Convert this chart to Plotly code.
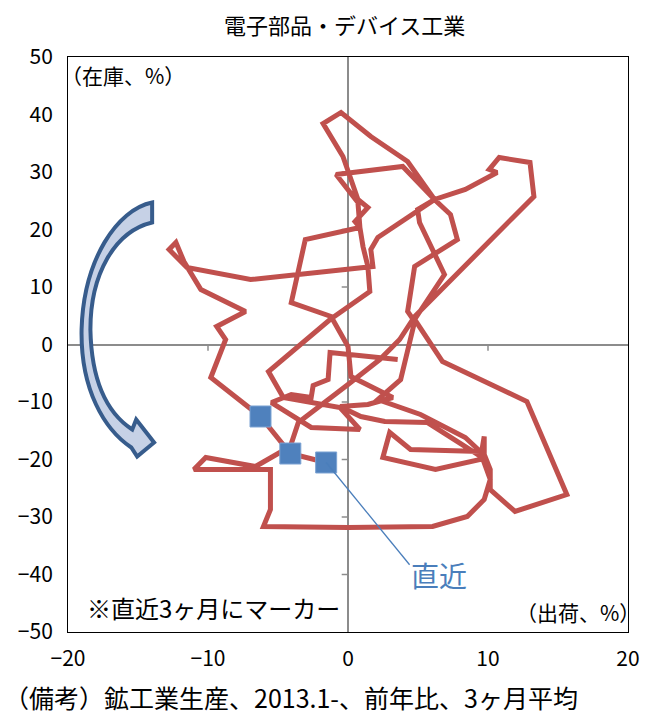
import plotly.graph_objects as go

# shipments (x, YoY %) and inventory (y, YoY %), 3-month average, from 2013.1
shipments = [3.55, -1.28, -1.42, -2.49, -2.63, -4.05, -5.47, -2.63, 0.85, -0.57,
             -4.62, -5.68, -1.28, 1.56,
             1.42, 1.07, 0.85, 0.50, 1.42, 0.71, 0.14, -0.36, -1.78, -0.50,
             1.63, 4.26, 6.18, 7.32, 7.81, 4.76, 4.26, 4.76, 3.76, 2.13,
             5.18, 8.38, 9.45, 4.47, 2.98, 2.49, 6.25, 9.45, 9.73, 9.73,
             10.16, 10.16, 11.93, 15.63, 12.78, 6.75, 4.76, 6.89, 5.11, 4.97,
             6.18, 8.38, 10.65, 10.09, 10.80, 13.0, 13.28, 4.76, 3.69, 2.27,
             0.0, -2.13, -3.55, -4.12, -6.61, -10.16, -11.01, -5.54, -5.54, -6.04,
             0.0, 6.04, 8.52, 9.73, 10.16, 9.59, 5.68, 2.63, 0.92, -0.57,
             1.42, 3.20, 0.21, 0.0,
             -1.21, -4.05, -3.05, 0.85, 0.71, -0.85, 3.91, 6.18, 2.13, 1.63,
             1.78, -6.96, -11.51, -12.78, -12.29, -11.72, -10.51, -7.32, -9.38, -8.74,
             -9.80, -6.25, -4.12, -1.56]
inventory = [-2.61, -1.39, -6.09, -7.13, -9.22, -8.70, -10.09, -14.43, -14.78, -10.96,
             -9.22, -4.70, 4.35, 9.22,
             13.57, 17.04, 20.35, 21.39, 23.83, 25.22, 29.22, 32.70, 38.43, 40.35,
             36.17, 31.83, 25.22, 22.61, 18.26, 13.57, 5.74, 4.00, -6.09, -9.57,
             -12.17, -16.17, -18.61, -18.26, -15.30, -19.65, -21.74, -20.0, -16.0, -19.13,
             -21.74, -25.22, -29.04, -26.09, -9.91, -2.96, 4.35, 12.17, 21.22, 23.48,
             25.22, 26.96, 29.91, 30.43, 32.52, 31.65, 25.74, 4.87, 0.87, -2.61,
             -6.96, -10.96, -13.57, -17.74, -21.22, -19.65, -21.74, -21.74, -28.70, -31.65,
             -31.83, -31.65, -29.91, -26.96, -23.48, -19.65, -13.57, -13.39, -12.52, -10.78,
             -10.43, -9.22, -5.57, -0.35,
             4.87, 7.30, 18.26, 20.35, 24.70, 29.57, 30.96, 25.22, 18.61, 16.52,
             13.57, 11.30, 13.39, 16.52, 17.74, 14.43, 9.57, 5.74, 3.13, 0.87,
             -5.74, -12.52, -18.96, -20.52]

x_ticks = [-20, -10, 0, 10, 20]
y_ticks = [50, 40, 30, 20, 10, 0, -10, -20, -30, -40, -50]

FONT = "Noto Sans CJK JP"
RED = "#C0504D"
BLUE = "#4F81BD"

fig = go.Figure()

fig.add_trace(go.Scatter(x=shipments, y=inventory, mode="lines",
                         line=dict(color=RED, width=5), hoverinfo="skip",
                         showlegend=False))
fig.add_trace(go.Scatter(x=shipments[-3:], y=inventory[-3:], mode="markers",
                         marker=dict(symbol="square", size=21, color=BLUE,
                                     line=dict(color="#7CA3D3", width=1)),
                         showlegend=False))

shapes = []
# small tick marks on the zero axes
for t in x_ticks:
    if t not in (-20, 0, 20):
        shapes.append(dict(type="line", xref="x", yref="y", x0=t, x1=t, y0=0, y1=-1.1,
                           line=dict(color="#8C8C8C", width=1.5), layer="below"))
for t in y_ticks:
    if t not in (-50, 0, 50):
        shapes.append(dict(type="line", xref="x", yref="y", x0=0, x1=-0.45, y0=t, y1=t,
                           line=dict(color="#8C8C8C", width=1.5), layer="below"))

# curved arrow (decoration)
arrow_path = ("M -13.99 24.70 C -16.48 23.48 -18.89 14.78 -19.03 2.61 "
              "C -19.11 -7.83 -17.40 -14.78 -15.48 -17.91 "
              "L -15.06 -19.48 L -13.85 -17.04 L -15.13 -13.04 L -15.41 -14.78 "
              "C -17.05 -12.17 -18.32 -6.96 -18.40 2.61 "
              "C -18.40 12.17 -16.69 19.65 -13.99 21.22 Z")
shapes.append(dict(type="path", xref="x", yref="y", path=arrow_path,
                   fillcolor="#C6D1E6", line=dict(color="#375C8C", width=4)))

# pointer line to latest
shapes.append(dict(type="line", xref="x", yref="y", x0=shipments[-1], y0=inventory[-1],
                   x1=4.4, y1=-38.3, line=dict(color="#4A7EBB", width=1.3)))

annotations = [
    dict(text="電子部品・デバイス工業", xref="paper", yref="paper", x=0.493, y=1.058,
         xanchor="center", yanchor="middle", showarrow=False,
         font=dict(family=FONT, size=22, color="black")),
    dict(text="（在庫、%）", xref="paper", yref="paper", x=-0.016, y=0.969,
         xanchor="left", yanchor="middle", showarrow=False,
         font=dict(family=FONT, size=21, color="black")),
    dict(text="（出荷、%）", xref="paper", yref="paper", x=1.025, y=0.035,
         xanchor="right", yanchor="middle", showarrow=False,
         font=dict(family=FONT, size=21, color="black")),
    dict(text="※直近3ヶ月にマーカー", xref="paper", yref="paper", x=0.030, y=0.042,
         xanchor="left", yanchor="middle", showarrow=False,
         font=dict(family=FONT, size=24, color="black")),
    dict(text="直近", xref="paper", yref="paper", x=0.663, y=0.099,
         xanchor="center", yanchor="middle", showarrow=False,
         font=dict(family=FONT, size=28, color="#4A7EBB")),
    dict(text="（備考）鉱工業生産、2013.1-、前年比、3ヶ月平均", xref="paper", yref="paper",
         x=-0.118, y=-0.113, xanchor="left", yanchor="middle", showarrow=False,
         font=dict(family=FONT, size=25, color="black")),
]

fig.update_layout(
    width=652, height=714,
    margin=dict(l=68, r=20, t=57, b=82),
    paper_bgcolor="white", plot_bgcolor="white",
    shapes=shapes, annotations=annotations,
    font=dict(family=FONT, color="black"),
    xaxis=dict(range=[-20, 20], tickvals=x_ticks, showgrid=False,
               zeroline=True, zerolinecolor="#8C8C8C", zerolinewidth=2,
               showline=True, linecolor="black", linewidth=1, mirror=True,
               ticks="", ticklabelstandoff=8, tickfont=dict(family=FONT, size=21)),
    yaxis=dict(range=[-50, 50], tickvals=y_ticks, showgrid=False,
               zeroline=True, zerolinecolor="#8C8C8C", zerolinewidth=2,
               showline=True, linecolor="black", linewidth=1, mirror=True,
               ticks="", ticklabelstandoff=10, tickfont=dict(family=FONT, size=21)),
)

fig.write_html("out.html")
